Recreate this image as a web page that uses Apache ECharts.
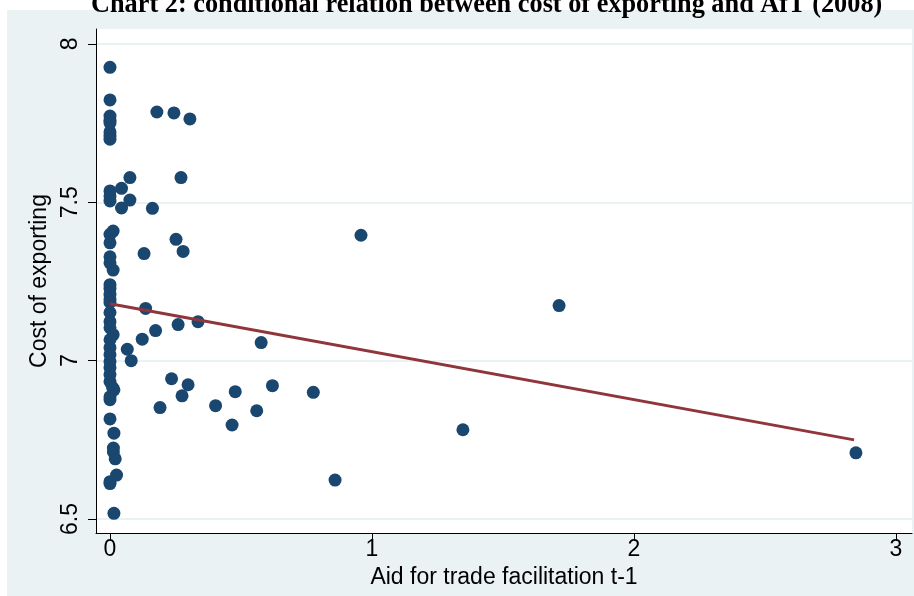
<!DOCTYPE html>
<html>
<head>
<meta charset="utf-8">
<script src="https://cdn.jsdelivr.net/npm/echarts@6/dist/echarts.min.js"></script>
<style>
html,body{margin:0;padding:0;background:#ffffff;}
#chart{width:914px;height:596px;}
</style>
</head>
<body>
<div id="chart"></div>
<script>
// ---- data ----
const titleText = 'Chart 2: conditional relation between cost of exporting and AfT (2008)';
const xAxisTitle = 'Aid for trade facilitation t-1';
const yAxisTitle = 'Cost of exporting';
const xTicks = [0, 1, 2, 3];
const yTicks = [6.5, 7, 7.5, 8];

const aidX = [
  0, 0, 0, 0, 0, 0, 0, 0,
  0, 0, 0,
  0.012, 0, 0, 0, 0, 0.012,
  0, 0, 0, 0, 0, 0, 0, 0, 0.012, 0, 0, 0, 0, 0, 0, 0, 0.01, 0.015, 0, 0,
  0, 0.015, 0.013, 0.013, 0.02, 0.025, 0, 0, 0.015,
  0.179, 0.244, 0.305, 0.076, 0.271, 0.044, 0.076, 0.044, 0.162, 0.958,
  0.252, 0.279, 0.13, 1.714, 0.136, 0.336, 0.26, 0.174, 0.123, 0.577,
  0.066, 0.081, 0.235, 0.298, 0.62, 0.478, 0.275, 0.776, 0.403, 0.191,
  0.56, 0.466, 1.347, 0.859, 2.847
];
const costY = [
  7.926, 7.823, 7.772, 7.759, 7.75, 7.722, 7.709, 7.699,
  7.536, 7.52, 7.504,
  7.409, 7.399, 7.372, 7.328, 7.309, 7.286,
  7.24, 7.228, 7.209, 7.195, 7.184, 7.152, 7.123, 7.104, 7.082, 7.066, 7.041, 7.019, 6.997, 6.978, 6.956, 6.934, 6.915, 6.908, 6.886, 6.877,
  6.816, 6.771, 6.724, 6.712, 6.69, 6.639, 6.618, 6.612, 6.518,
  7.785, 7.782, 7.763, 7.578, 7.578, 7.544, 7.507, 7.482, 7.481, 7.396,
  7.383, 7.345, 7.338, 7.174, 7.165, 7.123, 7.114, 7.095, 7.068, 7.057,
  7.036, 7.0, 6.943, 6.924, 6.921, 6.902, 6.889, 6.9, 6.858, 6.852,
  6.842, 6.797, 6.782, 6.623, 6.709
];
const fitX = [0, 2.84];
const fitY = [7.18, 6.75];

// ---- chart ----
const scatterData = aidX.map((x, i) => [x, costY[i]]);
const fitData = fitX.map((x, i) => [x, fitY[i]]);

const chart = echarts.init(document.getElementById('chart'), null, {renderer: 'canvas'});
const axisFont = "'Liberation Sans', Arial, sans-serif";

chart.setOption({
  animation: false,
  backgroundColor: '#ffffff',
  graphic: [
    {type: 'rect', z: -10, silent: true, shape: {x: 7, y: 10, width: 907, height: 586}, style: {fill: '#eaf2f3'}},
    {type: 'text', z: 10, left: 91, top: -8,
     style: {text: titleText, font: "bold 26.3px 'Liberation Serif', 'Times New Roman', serif", fill: '#000000'}}
  ],
  grid: {left: 96, top: 29, right: 2, bottom: 63, show: true, backgroundColor: '#ffffff', borderWidth: 0},
  xAxis: {
    type: 'value', min: -0.0534, max: 3.061,
    name: xAxisTitle, nameLocation: 'middle', nameGap: 31,
    nameTextStyle: {fontFamily: axisFont, fontSize: 23, color: '#000'},
    axisLine: {show: true, onZero: false, lineStyle: {color: '#000', width: 1}},
    axisTick: {show: true, length: 8, customValues: xTicks, lineStyle: {color: '#000'}},
    axisLabel: {customValues: xTicks, margin: 5, fontFamily: axisFont, fontSize: 23, color: '#000'},
    splitLine: {show: false}
  },
  yAxis: {
    type: 'value', min: 6.456, max: 8.047,
    name: yAxisTitle, nameLocation: 'middle', nameGap: 42, nameRotate: 90,
    nameTextStyle: {fontFamily: axisFont, fontSize: 23, color: '#000'},
    axisLine: {show: true, onZero: false, lineStyle: {color: '#000', width: 1}},
    axisTick: {show: true, length: 8, customValues: yTicks, lineStyle: {color: '#000'}},
    axisLabel: {customValues: yTicks, rotate: 90, margin: 14, fontFamily: axisFont, fontSize: 23, color: '#000'},
    splitLine: {show: true, lineStyle: {color: '#eaf2f3', width: 2}}
  },
  series: [
    {type: 'scatter', data: scatterData, symbol: 'circle', symbolSize: 13,
     itemStyle: {color: '#1a476f', opacity: 1}, z: 3},
    {type: 'line', data: fitData, symbol: 'none', showSymbol: false,
     lineStyle: {color: '#90353b', width: 3}, z: 4}
  ]
});
</script>
</body>
</html>
